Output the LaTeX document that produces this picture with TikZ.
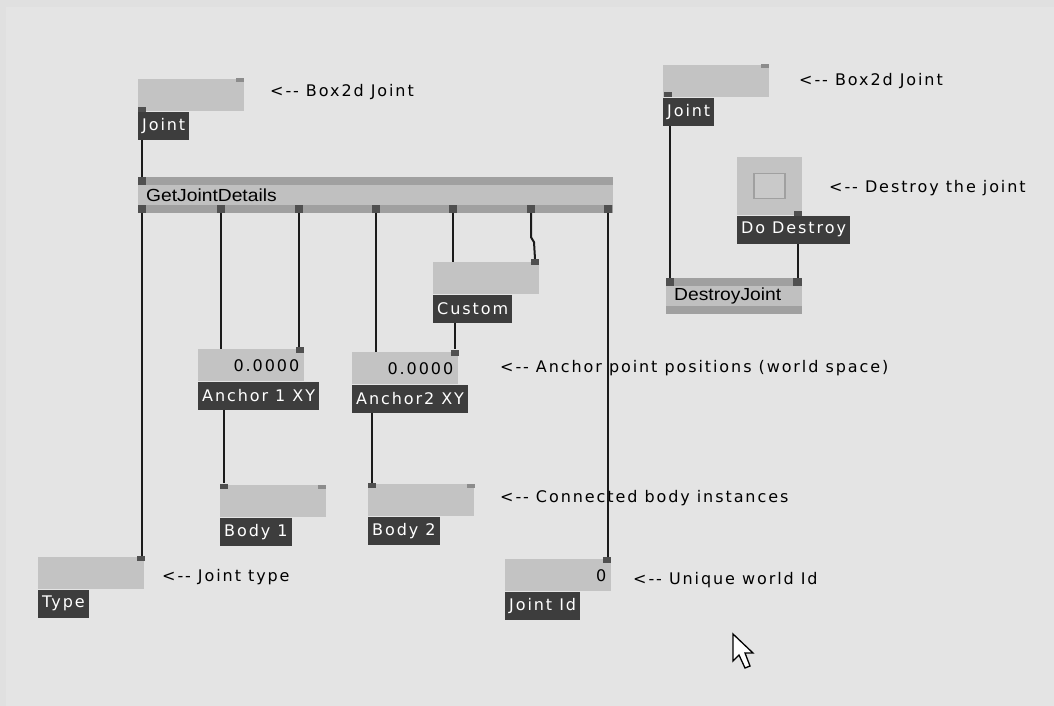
\documentclass[tikz,border=0pt]{standalone}
\usepackage{fontspec}
\usetikzlibrary{positioning}
\newfontfamily\pixfont[LetterSpace=12]{DejaVu Sans}
\newfontfamily\nodefont[FakeStretch=1.1]{Liberation Sans}
\definecolor{bgedge}{HTML}{E0E0E0}
\definecolor{bggray}{HTML}{E4E4E4}
\definecolor{iogray}{HTML}{C3C3C3}
\definecolor{lblgray}{HTML}{3D3D3D}
\definecolor{nodemid}{HTML}{C0C0C0}
\definecolor{nodebar}{HTML}{A0A0A0}
\definecolor{portdark}{HTML}{505050}
\definecolor{portlight}{HTML}{8C8C8C}
\definecolor{wiregray}{HTML}{1A1A1A}

\begin{document}
\begin{tikzpicture}[x=1pt, y=-1pt,
			iobox/.style={fill=iogray, anchor=north west, minimum width=106pt, minimum height=32pt, text width=96pt, inner xsep=5pt, inner ysep=0pt, align=right, font=\pixfont\fontsize{16}{18}\selectfont},
			lblbox/.style={fill=lblgray, text=white, minimum height=28pt, inner xsep=4pt, inner ysep=0pt, font=\pixfont\fontsize{16}{18}\selectfont},
			patchnode/.style={fill=nodemid, anchor=north west, minimum height=36pt, inner xsep=8pt, inner ysep=0pt, align=left, font=\nodefont\fontsize{17.5}{20}\selectfont,
				path picture={
					\fill[nodebar] (path picture bounding box.north west) rectangle ([yshift=-8pt]path picture bounding box.north east);
					\fill[nodebar] ([yshift=8pt]path picture bounding box.south west) rectangle (path picture bounding box.south east);
				}},
			port/.style={fill=portdark, minimum width=8pt, minimum height=6pt, inner sep=0pt},
			idleport/.style={port, fill=portlight, minimum height=4pt},
			wire/.style={draw=wiregray, line width=2pt},
			note/.style={anchor=west, inner sep=0pt, font=\pixfont\fontsize{16}{18}\selectfont}
			]
			% Background
			\useasboundingbox (0,0) rectangle (1054,706);
			\fill[bgedge] (0,0) rectangle (1054,706);
			\fill[bggray] (6,7) rectangle (1054,706);
			
			% Left joint input
			\node[iobox] (jointA) at (138,79) {};
			\node[lblbox, below right=0pt and 0pt of jointA.south west] (lblJointA) {Joint};
			\node[idleport] (jointAin) at (240,80.5) {};
			\node[port, minimum height=5pt] (jointAout) at (142,110) {};
			\node[note] (noteJointA) at (270,92) {<-{}- Box2d Joint};
			
			% GetJointDetails
			\node[patchnode, minimum width=475pt, text width=459pt] (gjd) at (138,177) {GetJointDetails};
			\node[port, minimum height=8pt] (gjdIn) at (142,181) {};
			\foreach \x [count=\i] in {142,221,299,376,453,531,608}
				\node[port, minimum height=8pt] (gjdOut\i) at (\x,209) {};
			
			% Outputs
			\node[iobox] (type) at (38,557) {};
			\node[lblbox, below right=0pt and 0pt of type.south west] (lblType) {Type};
			\node[port, minimum height=5pt] (typeIn) at (141,558.5) {};
			\node[note] (noteType) at (162,577) {<-{}- Joint type};
			
			\node[iobox] (anchorA) at (198,349) {0.0000};
			\node[lblbox, below right=0pt and 0pt of anchorA.south west] (lblAnchorA) {Anchor 1 XY};
			\node[port] (anchorAin) at (300,350) {};
			
			\node[iobox] (anchorB) at (352,352) {0.0000};
			\node[lblbox, below right=0pt and 0pt of anchorB.south west] (lblAnchorB) {Anchor2 XY};
			\node[port] (anchorBin) at (454.5,352.5) {};
			\node[note] (noteAnchor) at (500,368) {<-{}- Anchor point positions (world space)};
			
			\node[iobox] (custom) at (433,262) {};
			\node[lblbox, below right=0pt and 0pt of custom.south west] (lblCustom) {Custom};
			\node[port] (customIn) at (535,262) {};
			
			\node[iobox] (body1) at (220,485) {};
			\node[lblbox, below right=0pt and 0pt of body1.south west] (lblBody1) {Body 1};
			\node[port, minimum height=5pt] (body1In) at (224,486) {};
			\node[idleport] (body1Idle) at (322,487) {};
			
			\node[iobox] (body2) at (368,484) {};
			\node[lblbox, below right=0pt and 0pt of body2.south west] (lblBody2) {Body 2};
			\node[port, minimum height=5pt] (body2In) at (372,485.5) {};
			\node[idleport] (body2Idle) at (471,486) {};
			\node[note] (noteBody) at (500,498) {<-{}- Connected body instances};
			
			\node[iobox] (jointId) at (505,559) {0};
			\node[lblbox, below right=0pt and 0pt of jointId.south west] (lblJointId) {Joint Id};
			\node[port] (jointIdIn) at (607,560) {};
			\node[note] (noteJointId) at (633,580) {<-{}- Unique world Id};
			
			% Right joint input
			\node[iobox] (jointB) at (663,65) {};
			\node[lblbox, below right=0pt and 0pt of jointB.south west] (lblJointB) {Joint};
			\node[idleport] (jointBin) at (765,66.5) {};
			\node[port, minimum height=5pt] (jointBout) at (667.5,95) {};
			\node[note] (noteJointB) at (799,81) {<-{}- Box2d Joint};
			
			% Toggle
			\node[iobox, minimum width=65pt, text width=55pt, minimum height=58pt] (toggle) at (737,157) {};
			\node[draw=nodebar, fill=iogray!90!white, line width=1.5pt, minimum width=31pt, minimum height=25pt, inner sep=0pt] (check) at (toggle.center) {};
			\node[lblbox, below right=0pt and 0pt of toggle.south west] (lblToggle) {Do Destroy};
			\node[port, minimum height=5pt] (toggleOut) at (797.5,213) {};
			\node[note] (noteToggle) at (829,188) {<-{}- Destroy the joint};
			
			% DestroyJoint
			\node[patchnode, minimum width=136pt, text width=120pt] (dj) at (666,278) {DestroyJoint};
			\node[port, minimum height=8pt] (djIn1) at (669.5,282) {};
			\node[port, minimum height=8pt, minimum width=9pt] (djIn2) at (797.5,282) {};
			
			% Links
			\draw[wire] (lblJointA.south -| jointAout) -- (gjdIn);
			\draw[wire] (gjdOut1) -- (gjdOut1 |- typeIn.north);
			\draw[wire] (gjdOut2) -- (gjdOut2 |- anchorA.north);
			\draw[wire] (gjdOut3) -- (gjdOut3 |- anchorAin.north);
			\draw[wire] (gjdOut4) -- (gjdOut4 |- anchorB.north);
			\draw[wire] (gjdOut5) -- (gjdOut5 |- custom.north);
			\draw[wire] (gjdOut6.south) -- +(0,24) -- +(3,29) -- (customIn.north);
			\draw[wire] (gjdOut7) -- (gjdOut7 |- jointIdIn.north);
			\draw[wire] (lblCustom.south -| anchorBin) -- (anchorBin);
			\draw[wire] (lblAnchorA.south -| body1In) -- (body1In);
			\draw[wire] (lblAnchorB.south -| body2In) -- (body2In);
			\draw[wire] (lblJointB.south -| djIn1) -- (djIn1);
			\draw[wire] (lblToggle.south -| djIn2) -- (djIn2);
			
			% Cursor
			\draw[fill=white, line width=1.3pt, line join=miter] (733,634) -- (733,661) -- (739,655) -- (745,668) -- (750,666) -- (745,653) -- (753,653) -- cycle;
		\end{tikzpicture}
\end{document}
